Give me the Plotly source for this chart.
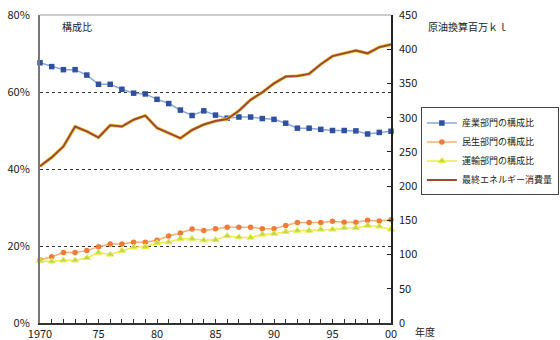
import plotly.graph_objects as go

years = list(range(1970, 2001))

# 産業部門の構成比 (%)
industry = [67.6, 66.6, 65.8, 65.8, 64.4, 62.0, 62.0, 60.7, 59.7, 59.5,
            58.1, 57.0, 55.3, 53.9, 55.1, 54.0, 53.2, 53.5, 53.5, 53.1,
            52.9, 51.9, 50.6, 50.6, 50.3, 50.0, 50.0, 49.9, 49.1, 49.5, 49.8]
# 民生部門の構成比 (%)
residential = [16.4, 17.2, 18.3, 18.3, 18.8, 19.8, 20.5, 20.5, 21.0, 21.0,
               21.5, 22.6, 23.4, 24.4, 24.0, 24.5, 24.9, 24.9, 24.9, 24.5,
               24.5, 25.3, 26.1, 26.1, 26.1, 26.4, 26.2, 26.2, 26.7, 26.5, 26.8]
# 運輸部門の構成比 (%)
transport = [16.2, 16.0, 16.3, 16.3, 16.9, 18.3, 17.8, 18.8, 19.7, 19.8,
             20.8, 21.0, 21.9, 21.9, 21.5, 21.6, 22.6, 22.3, 22.2, 23.0,
             23.2, 23.7, 24.0, 24.0, 24.3, 24.3, 24.7, 24.7, 25.3, 25.1, 24.3]
# 最終エネルギー消費量 (原油換算百万kl)
consumption = [229, 242, 258, 287, 280, 271, 289, 287, 297, 303,
               285, 278, 270, 282, 290, 295, 298, 310, 326, 337,
               350, 360, 361, 364, 378, 390, 394, 398, 394, 403, 407]

x_tickvals = [1970, 1975, 1980, 1985, 1990, 1995, 2000]
x_ticktext = ["1970", "75", "80", "85", "90", "95", "00"]

FONT = "Noto Sans CJK JP, Liberation Sans, sans-serif"

fig = go.Figure()

fig.add_trace(go.Scatter(
    x=years, y=industry, name="産業部門の構成比", mode="lines+markers",
    line=dict(color="#8aa6e0", width=1.5),
    marker=dict(symbol="square", size=5.5, color="#2f4f9f"),
    cliponaxis=False))
fig.add_trace(go.Scatter(
    x=years, y=residential, name="民生部門の構成比", mode="lines+markers",
    line=dict(color="#f5b070", width=1.5),
    marker=dict(symbol="circle", size=5.5, color="#f07a3a"),
    cliponaxis=False))
fig.add_trace(go.Scatter(
    x=years, y=transport, name="運輸部門の構成比", mode="lines+markers",
    line=dict(color="#eeea50", width=1.5),
    marker=dict(symbol="triangle-up", size=6.5, color="#b8d858",
                line=dict(color="#f0ec40", width=1)),
    cliponaxis=False))
# yellow under-stroke for the consumption line
fig.add_trace(go.Scatter(
    x=years, y=consumption, yaxis="y2", mode="lines", showlegend=False,
    hoverinfo="skip", line=dict(color="#f2c84a", width=3.4),
    cliponaxis=False))
fig.add_trace(go.Scatter(
    x=years, y=consumption, yaxis="y2", name="最終エネルギー消費量",
    mode="lines", line=dict(color="#9c4a2e", width=2),
    cliponaxis=False))

fig.update_layout(
    width=560, height=340,
    margin=dict(l=40, r=169, t=15, b=17, autoexpand=False),
    paper_bgcolor="white", plot_bgcolor="white",
    font=dict(family=FONT, size=11, color="#222"),
    showlegend=True,
    legend=dict(
        xref="container", x=0.998, y=0.70, xanchor="right", yanchor="top",
        bordercolor="#444", borderwidth=1, bgcolor="white",
        font=dict(size=9, color="#222"),
        itemwidth=30, tracegroupgap=0,
    ),
    xaxis=dict(
        range=[1970, 2000], tickvals=x_tickvals, ticktext=x_ticktext,
        ticks="inside", ticklen=4, tickcolor="#333",
        minor=dict(dtick=1, tick0=1970, ticks="inside", ticklen=4,
                   tickcolor="#333", showgrid=False),
        showline=True, linecolor="#333", linewidth=1.5,
        showgrid=False, zeroline=False,
        tickfont=dict(size=11, color="#222"),
    ),
    yaxis=dict(
        range=[0, 80], dtick=20, ticksuffix="%",
        showline=True, linecolor="#777", linewidth=2,
        ticks="", ticklabelstandoff=6,
        showgrid=True, gridcolor="#333", griddash="dot", gridwidth=1,
        zeroline=False, tickfont=dict(size=11, color="#222"),
    ),
    yaxis2=dict(
        range=[0, 450], dtick=50, overlaying="y", side="right",
        showline=True, linecolor="#222", linewidth=1.5,
        ticks="inside", ticklen=4, tickcolor="#222",
        ticklabelstandoff=4,
        showgrid=False, zeroline=False,
        tickfont=dict(size=11, color="#222"),
    ),
    shapes=[dict(type="line", xref="paper", yref="paper",
                 x0=0, x1=1, y0=1, y1=1,
                 line=dict(color="#999", width=1))],
    annotations=[
        dict(text="構成比", xref="paper", yref="paper", x=0.058, y=0.962,
             xanchor="left", yanchor="middle", showarrow=False,
             font=dict(size=10, color="#222")),
        dict(text="原油換算百万ｋｌ", xref="paper", yref="paper",
             x=1.1, y=0.962, xanchor="left", yanchor="middle",
             showarrow=False, font=dict(size=10, color="#222")),
        dict(text="年度", xref="paper", yref="paper", x=1.064, y=-0.027,
             xanchor="left", yanchor="middle", showarrow=False,
             font=dict(size=10, color="#222")),
    ],
)

fig.write_html("out.html")
